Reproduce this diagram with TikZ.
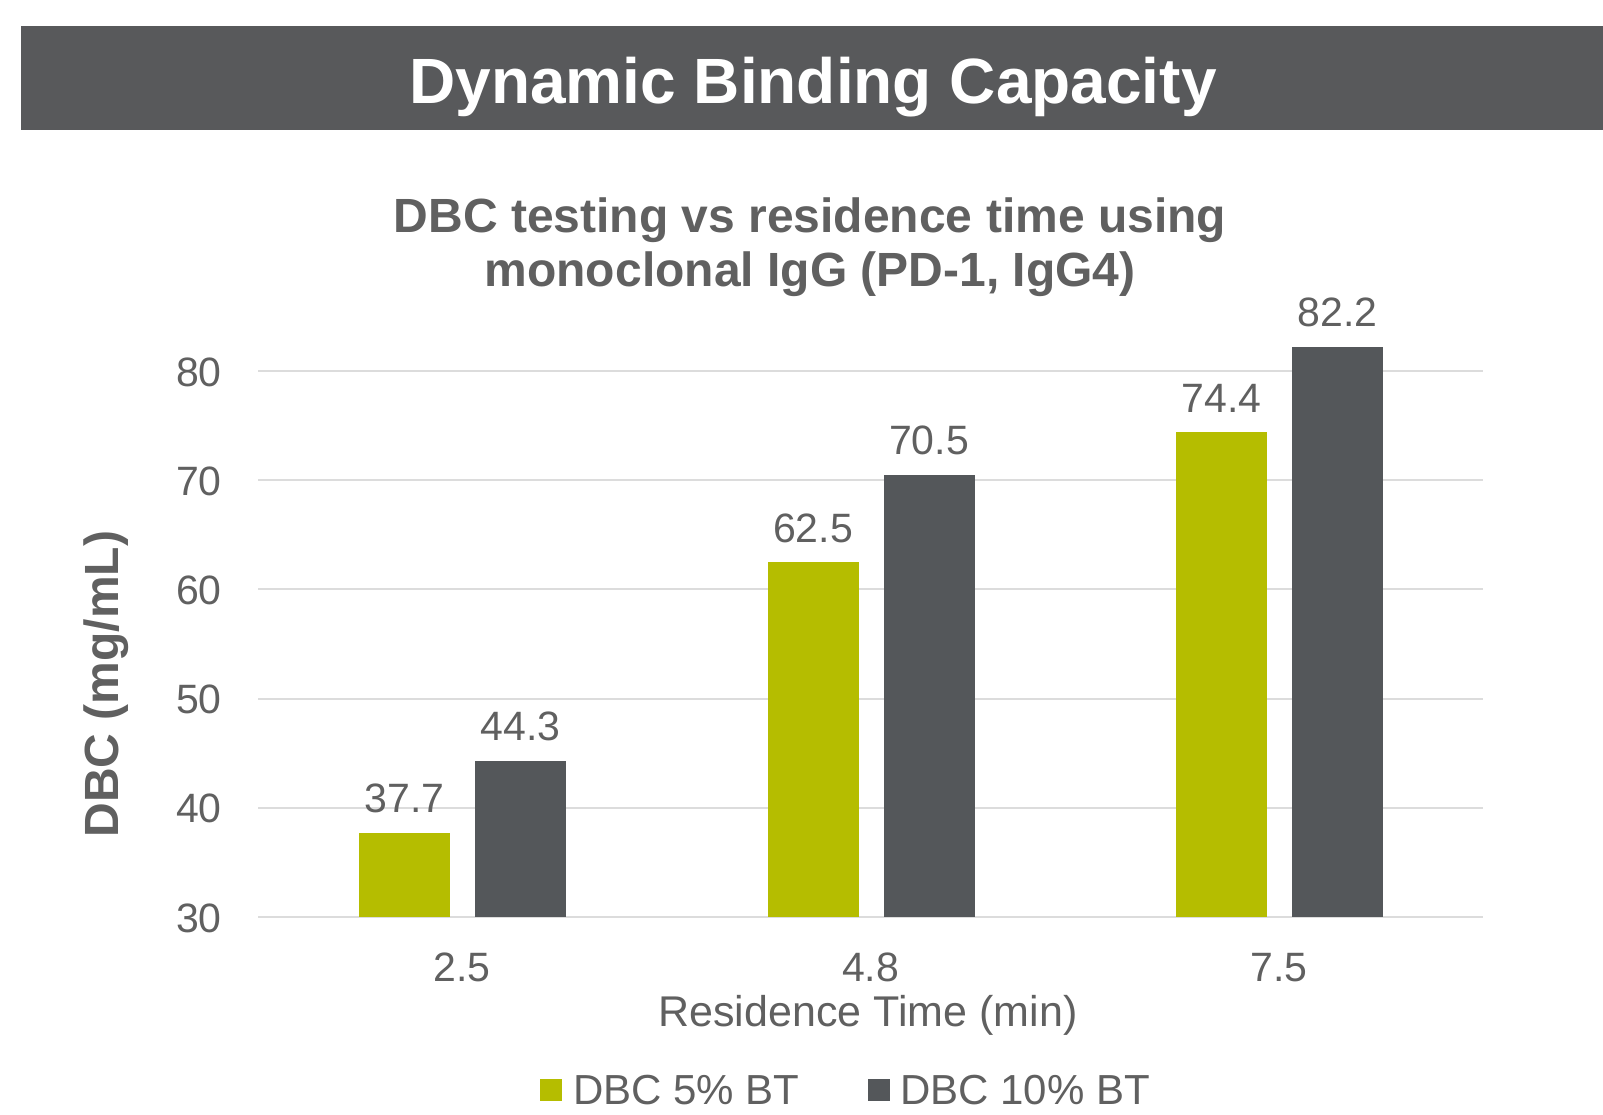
\documentclass[tikz,border=0pt]{standalone}
\usepackage{fontspec}
\setmainfont{Liberation Sans}
\definecolor{bandgray}{HTML}{58595B}
\definecolor{lime}{HTML}{B5BD00}
\definecolor{slate}{HTML}{54575A}
\definecolor{gridgray}{HTML}{DCDCDC}
\definecolor{txtgray}{HTML}{606060}
\tikzset{
  gridline/.style={draw=gridgray, line width=2pt},
  ticklabel/.style={text=txtgray, inner sep=0pt, font=\fontsize{41}{48}\selectfont},
  vallabel/.style={text=txtgray, inner sep=0pt, font=\fontsize{41}{48}\selectfont, anchor=base},
  boldtitle/.style={text=txtgray, inner sep=0pt, font=\bfseries\fontsize{48}{54}\selectfont, anchor=base},
  legendbox/.style={inner sep=0pt, minimum size=22pt, anchor=north west},
}
\begin{document}
\begin{tikzpicture}[x=1pt, y=-1pt]
\useasboundingbox (0,0) rectangle (1603,1115);
\fill[white] (0,0) rectangle (1603,1115);

% header band
\fill[bandgray] (21,26) rectangle (1603,130);
\node[anchor=base, inner sep=0pt, text=white, font=\bfseries\fontsize{64}{70}\selectfont] (head) at (813,104) {Dynamic Binding Capacity};

% chart title
\node[boldtitle] (sub1) at (810,233) {DBC testing vs residence time using};
\node[boldtitle] (sub2) at (810,287) {monoclonal IgG (PD-1, IgG4)};

% grid and y ticks
\foreach \v in {30,40,...,80} {
  \draw[gridline] (258,{917-(\v-30)*10.92}) -- (1483,{917-(\v-30)*10.92});
  \node[ticklabel, anchor=base east] (tick\v) at (222,{917-(\v-30)*10.92+15}) {\v};
}

% bars
\foreach \c/\lab/\a/\b [count=\i] in {462/2.5/37.7/44.3, 870.5/4.8/62.5/70.5, 1279/7.5/74.4/82.2} {
  \fill[lime]  (\c-103,917) rectangle ({\c-12},{917-(\a-30)*10.92});
  \fill[slate] (\c+13,917)  rectangle ({\c+104},{917-(\b-30)*10.92});
  \node[vallabel] (va\i) at ({\c-57.5},{917-(\a-30)*10.92-20}) {\a};
  \node[vallabel] (vb\i) at ({\c+58.5},{917-(\b-30)*10.92-20}) {\b};
  \node[vallabel] (cat\i) at (\c,981) {\lab};
}

% axis titles
\node[vallabel, font=\fontsize{43}{48}\selectfont] (xtitle) at (868,1026) {Residence Time (min)};
\node[boldtitle, rotate=90] (ytitle) at (118,684) {DBC (mg/mL)};

% legend
\node[legendbox, fill=lime] (leg1) at (540,1079) {};
\node[anchor=base west, inner sep=0pt, text=txtgray, font=\fontsize{42}{48}\selectfont] (legt1) at (573,1104) {DBC 5\% BT};
\node[legendbox, fill=slate] (leg2) at (868,1079) {};
\node[anchor=base west, inner sep=0pt, text=txtgray, font=\fontsize{42}{48}\selectfont] (legt2) at (900,1104) {DBC 10\% BT};
\end{tikzpicture}
\end{document}
